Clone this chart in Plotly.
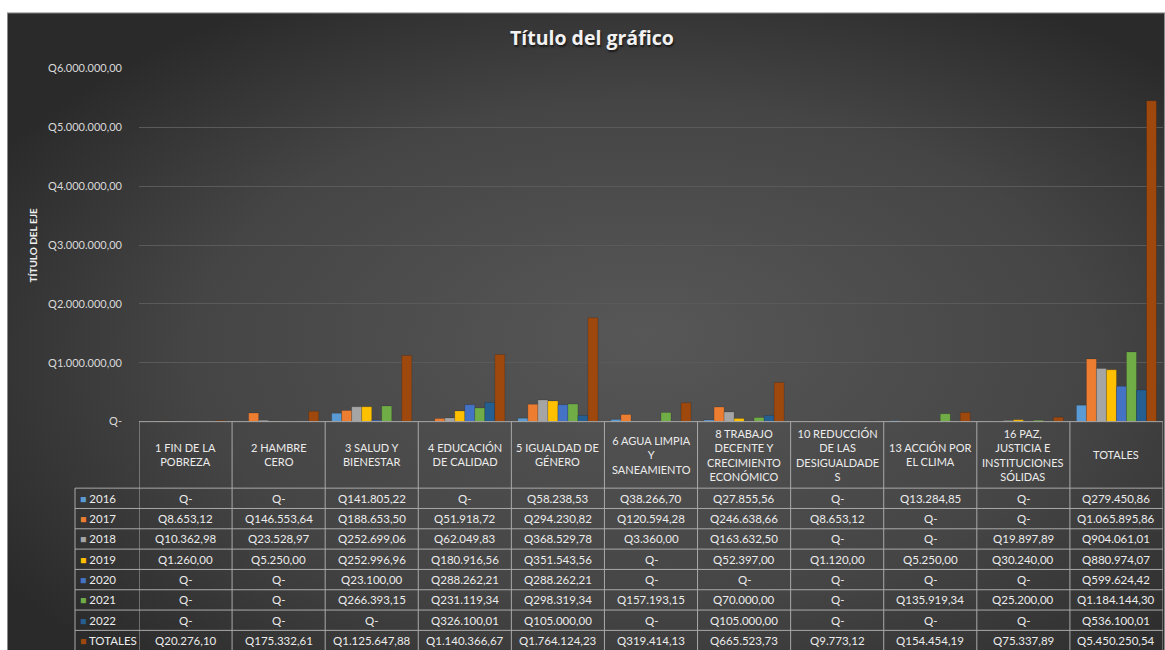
import base64
import plotly.graph_objects as go

# ---------------- data ----------------
categories = [
    "1 FIN DE LA POBREZA", "2 HAMBRE CERO", "3 SALUD Y BIENESTAR",
    "4 EDUCACIÓN DE CALIDAD", "5 IGUALDAD DE GÉNERO",
    "6 AGUA LIMPIA Y SANEAMIENTO",
    "8 TRABAJO DECENTE Y CRECIMIENTO ECONÓMICO",
    "10 REDUCCIÓN DE LAS DESIGUALDADES", "13 ACCIÓN POR EL CLIMA",
    "16 PAZ, JUSTICIA E INSTITUCIONES SÓLIDAS", "TOTALES",
]
header_labels = [
    "1 FIN DE LA<br>POBREZA", "2 HAMBRE<br>CERO", "3 SALUD Y<br>BIENESTAR",
    "4 EDUCACIÓN<br>DE CALIDAD", "5 IGUALDAD DE<br>GÉNERO",
    "6 AGUA LIMPIA<br>Y<br>SANEAMIENTO",
    "8 TRABAJO<br>DECENTE Y<br>CRECIMIENTO<br>ECONÓMICO",
    "10 REDUCCIÓN<br>DE LAS<br>DESIGUALDADE<br>S",
    "13 ACCIÓN POR<br>EL CLIMA",
    "16 PAZ,<br>JUSTICIA E<br>INSTITUCIONES<br>SÓLIDAS", "TOTALES",
]
series_names = ["2016", "2017", "2018", "2019", "2020", "2021", "2022", "TOTALES"]

v2016 = [0, 0, 141805.22, 0, 58238.53, 38266.70, 27855.56, 0, 13284.85, 0, 279450.86]
v2017 = [8653.12, 146553.64, 188653.50, 51918.72, 294230.82, 120594.28, 246638.66, 8653.12, 0, 0, 1065895.86]
v2018 = [10362.98, 23528.97, 252699.06, 62049.83, 368529.78, 3360.00, 163632.50, 0, 0, 19897.89, 904061.01]
v2019 = [1260.00, 5250.00, 252996.96, 180916.56, 351543.56, 0, 52397.00, 1120.00, 5250.00, 30240.00, 880974.07]
v2020 = [0, 0, 23100.00, 288262.21, 288262.21, 0, 0, 0, 0, 0, 599624.42]
v2021 = [0, 0, 266393.15, 231119.34, 298319.34, 157193.15, 70000.00, 0, 135919.34, 25200.00, 1184144.30]
v2022 = [0, 0, 0, 326100.01, 105000.00, 0, 105000.00, 0, 0, 0, 536100.01]
vtot = [20276.10, 175332.61, 1125647.88, 1140366.67, 1764124.23, 319414.13, 665523.73, 9773.12, 154454.19, 75337.89, 5450250.54]

y_tickvals = [0, 1000000, 2000000, 3000000, 4000000, 5000000, 6000000]
y_ticktext = ["Q-", "Q1.000.000,00", "Q2.000.000,00", "Q3.000.000,00",
              "Q4.000.000,00", "Q5.000.000,00", "Q6.000.000,00"]

series_values = [v2016, v2017, v2018, v2019, v2020, v2021, v2022, vtot]
colors = ["#5B9BD5", "#ED7D31", "#A5A5A5", "#FFC000", "#4472C4", "#70AD47", "#255E91", "#9E480E"]

# ---------------- layout geometry (pixels) ----------------
W, H = 1165, 660
FONT = "Lato"
YS = 0.98  # observed vertical squeeze of the capture, compensated here


def fig_py(p):
    # reference pixel -> figure pixel
    return 325 + (p - 325) / YS


px_x = lambda p: p / W
px_y = lambda p: 1 - fig_py(p) / H

plot_left, plot_right = 139, 1163
plot_top, plot_bottom = 68, 421
label_left = 75
header_bottom = 487.5
row_h = (650 - header_bottom) / 8.0


def fmt(v):
    if v == 0:
        return "Q-"
    s = f"{v:,.2f}"
    s = s.replace(",", "X").replace(".", ",").replace("X", ".")
    return "Q" + s


fig = go.Figure()
for name, vals, col in zip(series_names, series_values, colors):
    fig.add_trace(go.Bar(
        name=name, x=categories, y=vals, marker_color=col,
        marker_line_width=0.6, marker_line_color="rgba(0,0,0,0.25)",
        hoverinfo="skip",
    ))

# background gradient as svg image
svg = (
    '<svg xmlns="http://www.w3.org/2000/svg" width="1158" height="660" viewBox="0 0 1158 660" preserveAspectRatio="none">'
    '<defs><radialGradient id="g" cx="0.55" cy="0.55" r="0.65" fx="0.55" fy="0.5">'
    '<stop offset="0" stop-color="#575757"/>'
    '<stop offset="0.6" stop-color="#454545"/>'
    '<stop offset="1" stop-color="#2a2a2a"/>'
    '</radialGradient></defs>'
    '<rect x="0" y="0" width="1158" height="660" fill="url(#g)"/>'
    '<rect x="0.5" y="0.5" width="1157" height="680" fill="none" stroke="#8a8a8a" stroke-width="1"/>'
    '</svg>'
)
src = "data:image/svg+xml;base64," + base64.b64encode(svg.encode()).decode()

bg_top = fig_py(12)

shapes = []
line_col = "#a9a9a9"
# vertical separators at category boundaries (axis units)
for i in range(len(categories) + 1):
    shapes.append(dict(type="line", xref="x", yref="paper",
                       x0=i - 0.5, x1=i - 0.5, y0=px_y(plot_bottom), y1=0,
                       line=dict(color=line_col, width=1)))
# label column left border
shapes.append(dict(type="line", xref="paper", yref="paper",
                   x0=px_x(label_left), x1=px_x(label_left),
                   y0=px_y(header_bottom), y1=0, line=dict(color=line_col, width=1)))
# top border of header
shapes.append(dict(type="line", xref="paper", yref="paper",
                   x0=px_x(plot_left), x1=px_x(plot_right),
                   y0=px_y(plot_bottom), y1=px_y(plot_bottom), line=dict(color=line_col, width=1)))
# row lines
for r in range(9):
    yy = header_bottom + r * row_h
    shapes.append(dict(type="line", xref="paper", yref="paper",
                       x0=px_x(label_left), x1=px_x(plot_right),
                       y0=px_y(yy), y1=px_y(yy), line=dict(color=line_col, width=1)))

annotations = []
txt_col = "#ececec"
CELL_SIZE = 11.5
# header texts
for cat, lab in zip(categories, header_labels):
    annotations.append(dict(x=cat, xref="x", yref="paper", y=px_y((plot_bottom + header_bottom) / 2),
                            text=lab, showarrow=False, xanchor="center", yanchor="middle",
                            font=dict(family=FONT, size=11, color=txt_col), align="center"))
# cells and row labels
for r, (name, vals, col) in enumerate(zip(series_names, series_values, colors)):
    yc = px_y(header_bottom + (r + 0.5) * row_h)
    annotations.append(dict(x=px_x(label_left + 3), xref="paper", yref="paper", y=yc,
                            text=f'<span style="color:{col};font-size:10.5px">■</span> {name}',
                            showarrow=False, xanchor="left", yanchor="middle",
                            font=dict(family=FONT, size=11.5, color=txt_col)))
    for cat, v in zip(categories, vals):
        annotations.append(dict(x=cat, xref="x", yref="paper", y=yc, text=fmt(v),
                                showarrow=False, xanchor="center", yanchor="middle",
                                font=dict(family=FONT, size=CELL_SIZE, color=txt_col)))
# axis title
annotations.append(dict(x=px_x(33), y=px_y(245), xref="paper", yref="paper",
                        text="<b>TÍTULO DEL EJE</b>", textangle=-90, showarrow=False,
                        xanchor="center", yanchor="middle",
                        font=dict(family=FONT, size=10, color="#f0f0f0")))
# chart title
annotations.append(dict(x=px_x(592), y=px_y(37), xref="paper", yref="paper",
                        text="<b>Título del gráfico</b>", showarrow=False,
                        xanchor="center", yanchor="middle",
                        font=dict(family="Open Sans", size=19.5, color="#f2f2f2",
                                  shadow="1px 2px 2px rgba(0,0,0,0.6)")))

fig.update_layout(
    width=W, height=H,
    margin=dict(l=0, r=0, t=0, b=0),
    paper_bgcolor="white", plot_bgcolor="rgba(0,0,0,0)",
    barmode="group", bargap=0.14, bargroupgap=0,
    showlegend=False,
    images=[dict(source=src, xref="paper", yref="paper", x=px_x(7), y=1 - bg_top / H,
                 sizex=px_x(W - 7), sizey=(H - bg_top) / H, xanchor="left", yanchor="top",
                 sizing="stretch", layer="below")],
    shapes=shapes, annotations=annotations,
    xaxis=dict(domain=[px_x(plot_left), px_x(plot_right)], range=[-0.5, 10.5],
               showticklabels=False, showgrid=False, zeroline=False, ticks="",
               categoryorder="array", categoryarray=categories),
    yaxis=dict(domain=[px_y(plot_bottom), px_y(plot_top)], range=[0, 6000000],
               tickvals=y_tickvals, ticktext=y_ticktext, showgrid=True,
               gridcolor="#5a5a5a", gridwidth=1, zeroline=False, ticks="",
               ticklabelstandoff=16,
               tickfont=dict(family=FONT, size=11, color="#d9d9d9")),
)

post = (
    "var s=document.createElement('style');"
    "s.textContent='html,body{margin:0!important;padding:0!important;overflow:hidden!important;}';"
    "document.head.appendChild(s);"
)

fig.write_html("out.html", config={"displayModeBar": False}, post_script=post)
